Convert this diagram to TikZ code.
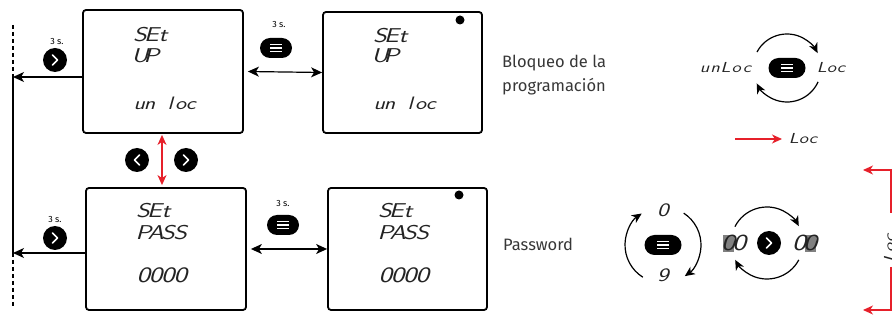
\documentclass[tikz,border=0pt]{standalone}
\usepackage{fontspec}
\usepackage{graphicx}
\setmainfont{Fira Sans}
\usetikzlibrary{arrows.meta,calc}
\definecolor{myred}{RGB}{230,32,42}
\definecolor{txt}{RGB}{55,55,55}
\definecolor{segc}{RGB}{35,35,35}
\definecolor{hl}{RGB}{128,128,128}
\newcommand\segf[1]{\sffamily\slshape\fontsize{#1}{#1}\selectfont}
\ExplSyntaxOn
\NewDocumentCommand\segs{mm}{\tl_map_inline:nn{#2}{\makebox[#1][c]{\scalebox{1.3}[1]{##1}}}}
\ExplSyntaxOff
\tikzset{
  box/.style={draw, line width=1.8pt, rounded corners=3pt, inner sep=0pt},
  segtxt/.style={anchor=base west, inner sep=0pt, text=segc},
  segc/.style={anchor=base, inner sep=0pt, text=segc},
  btn/.style={circle, fill=black, minimum size=24pt, inner sep=0pt},
  pill/.style={rectangle, rounded corners=10pt, fill=black, minimum width=32pt, minimum height=20pt, inner sep=0pt},
  chev/.style={white, line width=1.5pt, line cap=round, line join=round},
  arr/.style={line width=1.2pt, -{Stealth[length=11pt,width=10pt,inset=3pt]}},
  darr/.style={line width=1.2pt, {Stealth[length=11pt,width=10pt,inset=3pt]}-{Stealth[length=11pt,width=10pt,inset=3pt]}},
  rdarr/.style={myred, line width=1.3pt, {Stealth[length=10pt,width=9pt,inset=3pt]}-{Stealth[length=10pt,width=9pt,inset=3pt]}},
  rarr/.style={myred, line width=1.2pt, -{Stealth[length=10pt,width=9pt,inset=3pt]}},
  carr/.style={line width=1.2pt, -{Stealth[length=10pt,width=9pt,inset=3pt]}},
  dline/.style={line width=1.2pt, dash pattern=on 4pt off 3pt},
  lbl/.style={anchor=base west, inner sep=0pt, text=txt, font=\fontsize{16.5}{16.5}\selectfont},
  small/.style={inner sep=0pt, font=\fontsize{9}{9}\selectfont},
  dot/.style={circle, fill=black, minimum size=9pt, inner sep=0pt}
}
\begin{document}
\begin{tikzpicture}[x=1pt,y=-1pt]
\useasboundingbox (0,0) rectangle (892,320);
\clip (0,0) rectangle (892,320);

% boxes
\node[box, minimum width=160pt, minimum height=123pt] (b1) at (163,71.5) {};
\node[box, minimum width=159pt, minimum height=121pt] (b2) at (402.5,72.5) {};
\node[box, minimum width=160pt, minimum height=122pt] (b3) at (166,249) {};
\node[box, minimum width=159pt, minimum height=122pt] (b4) at (407.5,249) {};

% box texts
\node[segtxt, font=\segf{20}] (t1a) at (134,42) {\segs{11.5pt}{SEt}};
\node[segtxt, font=\segf{20}] (t1b) at (134,63) {\segs{11.5pt}{UP}};
\node[segtxt, font=\segf{18}] (t1c) at (134,110) {\segs{10.3pt}{un{\ }loc}};
\node[segtxt, font=\segf{20}] (t2a) at (374,43) {\segs{11.5pt}{SEt}};
\node[segtxt, font=\segf{20}] (t2b) at (374,63) {\segs{11.5pt}{UP}};
\node[segtxt, font=\segf{18}] (t2c) at (374,110) {\segs{10.3pt}{un{\ }loc}};
\node[segtxt, font=\segf{20}] (t3a) at (137,218) {\segs{11.5pt}{SEt}};
\node[segtxt, font=\segf{20}] (t3b) at (137,240) {\segs{12.3pt}{PASS}};
\node[segtxt, font=\segf{22}] (t3c) at (137,283) {\segs{12.3pt}{0000}};
\node[segtxt, font=\segf{20}] (t4a) at (379,218) {\segs{11.5pt}{SEt}};
\node[segtxt, font=\segf{20}] (t4b) at (379,240) {\segs{12.3pt}{PASS}};
\node[segtxt, font=\segf{22}] (t4c) at (379,283) {\segs{12.3pt}{0000}};

\node[dot] (d1) at (460,20) {};
\node[dot] (d2) at (459,195) {};

% left line
\coordinate (vt) at (13,25);
\coordinate (j1) at (13,77);
\coordinate (j2) at (13,253);
\coordinate (vb) at (13,307);
\draw[dline] (vt) -- (j1);
\draw[line width=1.2pt] (j1) -- (j2);
\draw[dline] (j2) -- (vb);
\draw[arr] (b1.west |- j1) -- (j1);
\draw[arr] (b3.west |- j2) -- (j2);

% left buttons
\node[small] (s1) at (57,42) {3 s.};
\node[btn] (c1) at (55,60) {};
\draw[chev] ($(c1)+(-2.5,-5)$) -- ++(5,5) -- ++(-5,5);
\node[small] (s2) at (55,220) {3 s.};
\node[btn] (c2) at (55,238) {};
\draw[chev] ($(c2)+(-2.5,-5)$) -- ++(5,5) -- ++(-5,5);

% between boxes
\node[small] (s3) at (279,25) {3 s.};
\node[pill] (p1) at (276,48) {};
\draw[darr] ([xshift=4pt]b1.east) -- (b2.west);
\node[small] (s4) at (283,203) {3 s.};
\node[pill] (p2) at (283,225) {};
\draw[darr] ([xshift=4pt]b3.east) -- (b4.west);

% red vertical
\coordinate (rx) at (162,0);
\draw[rdarr] ($(b1.south -| rx)+(0,1)$) -- ($(b3.north -| rx)+(0,-2)$);
\node[btn] (c3) at (137,160) {};
\draw[chev] ($(c3)+(2.5,-5)$) -- ++(-5,5) -- ++(5,5);
\node[btn] (c4) at (186,160) {};
\draw[chev] ($(c4)+(-2.5,-5)$) -- ++(5,5) -- ++(-5,5);

% labels
\node[lbl] (l1a) at (502,68) {Bloqueo de la};
\node[lbl] (l1b) at (502,92) {programación};
\node[lbl] (l2) at (503,251) {Password};

% unLoc cycle
\coordinate (o1) at (787,68);
\node[pill, minimum width=37pt] (p3) at (o1) {};
\node[segtxt, font=\segf{14.5}] (u1) at (699,73) {\segs{10.6pt}{unLoc}};
\node[segtxt, font=\segf{14.5}] (u2) at (817,73) {\segs{9.5pt}{Loc}};
\draw[carr] ($(o1)+(208:34)$) arc[start angle=208, end angle=334, radius=34];
\draw[carr] ($(o1)+(24:34)$) arc[start angle=24, end angle=153, radius=34];

% red Loc
\coordinate (ra) at (735,139);
\node[segtxt, font=\segf{14.5}] (rl) at (789,144) {\segs{9.5pt}{Loc}};
\draw[rarr] (ra) -- ($(rl.west |- ra)+(-7,0)$);

% password cycle 1
\coordinate (o2) at (663,245);
\node[pill, minimum width=37pt] (p4) at (o2) {};
\node[segc, font=\segf{19}] (n0) at (663,217) {\scalebox{1.3}[1]{0}};
\node[segc, font=\segf{19}] (n9) at (663,282) {\scalebox{1.3}[1]{9}};
\draw[carr] ($(o2)+(122:38)$) arc[start angle=122, end angle=236, radius=38];
\draw[carr] ($(o2)+(303:38)$) arc[start angle=303, end angle=415, radius=38];

% password cycle 2
\coordinate (o3) at (767,243);
\node[btn] (c5) at (769,243) {};
\draw[chev] ($(c5)+(-2.5,-5)$) -- ++(5,5) -- ++(-5,5);
\fill[hl] (722.5,235) rectangle (733.5,252);
\fill[hl] (804.5,235) rectangle (815.5,252);
\node[segtxt, font=\segf{23}] (dd1) at (722.5,251) {\segs{11pt}{00}};
\node[segtxt, font=\segf{23}] (dd2) at (793.5,251) {\segs{11pt}{00}};
\draw[carr] ($(o3)+(207:36)$) arc[start angle=207, end angle=332, radius=36];
\draw[carr] ($(o3)+(28:36)$) arc[start angle=28, end angle=152, radius=36];

% pill lines
\foreach \p in {p1,p2,p3,p4} {
  \foreach \d in {-3.2,0,3.2} \draw[white, line width=1.1pt] ($(\p)+(-6,\d)$) -- ++(12,0);
}

% right edge
\coordinate (rr1) at (891,213);
\coordinate (rr2) at (891,170);
\coordinate (rr3) at (863,170);
\coordinate (rr4) at (891,267);
\coordinate (rr5) at (891,310);
\coordinate (rr6) at (863,310);
\draw[rarr] (rr1) -- (rr2) -- (rr3);
\draw[rarr] (rr4) -- (rr5) -- (rr6);
\node[segtxt, font=\segf{14.5}, rotate=90] (rot) at (894,262) {\segs{9.5pt}{Loc}};
\end{tikzpicture}
\end{document}
